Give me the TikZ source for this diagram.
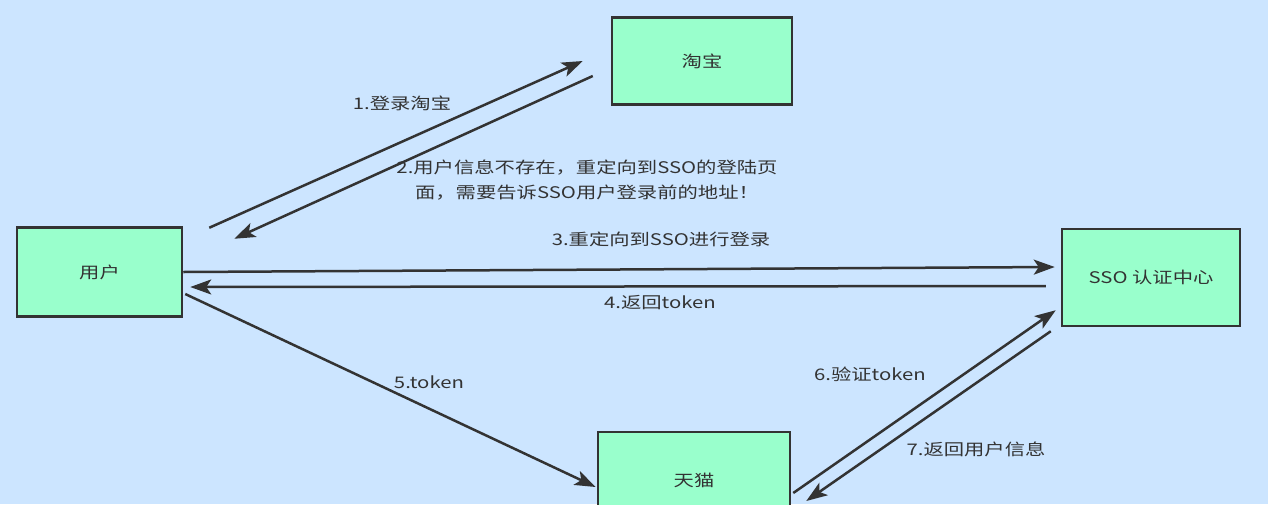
\documentclass[tikz,border=0pt]{standalone}
\usepackage{fontspec}
\setmainfont[FakeStretch=1.27]{Noto Sans CJK SC}
\usepackage{tikz}
\usetikzlibrary{arrows.meta, positioning}

\definecolor{bgblue}{HTML}{CCE5FF}
\definecolor{boxgreen}{HTML}{99FFCC}
\definecolor{ink}{HTML}{333333}

\begin{document}
\begin{tikzpicture}[
                    x=1pt, y=-1pt,
                    box/.style={
                        draw=ink, line width=2.5pt, fill=boxgreen,
                        text=ink, font=\fontsize{16}{20}\selectfont,
                        inner sep=0pt
                    },
                    flow/.style={
                        draw=ink, line width=2.5pt,
                        -{Stealth[length=21pt, width=15pt, inset=5pt]}
                    },
                    lbl/.style={
                        text=ink, font=\fontsize{16}{25}\selectfont,
                        align=center, inner sep=0pt
                    }
                ]
                % page
                \fill[bgblue] (0,0) rectangle (1268,504);
                \useasboundingbox (0,0) rectangle (1268,504);
                \clip (0,0) rectangle (1268,504);

                % boxes
                \node[box, minimum width=180pt, minimum height=87pt] (taobao) at (702,61) {淘宝};
                \node[box, minimum width=165pt, minimum height=89pt] (user) at (99.5,272) {用户};
                \node[box, minimum width=178pt, minimum height=97pt] (sso) at (1151,277.5) {SSO 认证中心};
                \node[box, minimum width=192pt, minimum height=96pt] (tmall) at (694,480) {天猫};

                % loose arrow ends
                \coordinate (login start) at ([shift={(26,1.5)}]user.north east);
                \coordinate (login end) at ([shift={(-28,0)}]taobao.west);
                \coordinate (redirect start) at ([shift={(-18,15)}]taobao.west);
                \coordinate (redirect end) at ([shift={(51,12.5)}]user.north east);
                \coordinate (sso end) at ([shift={(-6,-10.5)}]sso.west);
                \coordinate (back start) at ([shift={(-15,8.5)}]sso.west);
                \coordinate (back end) at ([shift={(7,15)}]user.east);
                \coordinate (token start) at ([shift={(2,22)}]user.east);
                \coordinate (token end) at ([shift={(-1,7)}]tmall.west);
                \coordinate (check start) at ([shift={(2,13)}]tmall.east);
                \coordinate (check end) at ([shift={(-5,-17)}]sso.south west);
                \coordinate (info start) at ([shift={(-10,4)}]sso.south west);
                \coordinate (info end) at ([shift={(15,21)}]tmall.east);

                % flows
                \draw[flow] (login start) -- (login end);
                \draw[flow] (redirect start) -- (redirect end);
                \draw[flow] (user.east) -- (sso end);
                \draw[flow] (back start) -- (back end);
                \draw[flow] (token start) -- (token end);
                \draw[flow] (check start) -- (check end);
                \draw[flow] (info start) -- (info end);

                % labels
                \node[lbl] (step one) at (402,103) {1.登录淘宝};
                \node[lbl] (step two) at (587,180) {2.用户信息不存在，重定向到SSO的登陆页\\面，需要告诉SSO用户登录前的地址！};
                \node[lbl] (step three) at (661,239) {3.重定向到SSO进行登录};
                \node[lbl] (step four) at (660,303) {4.返回token};
                \node[lbl] (step five) at (429,382) {5.token};
                \node[lbl] (step six) at (870,374) {6.验证token};
                \node[lbl] (step seven) at (976,449) {7.返回用户信息};
            \end{tikzpicture}
\end{document}
